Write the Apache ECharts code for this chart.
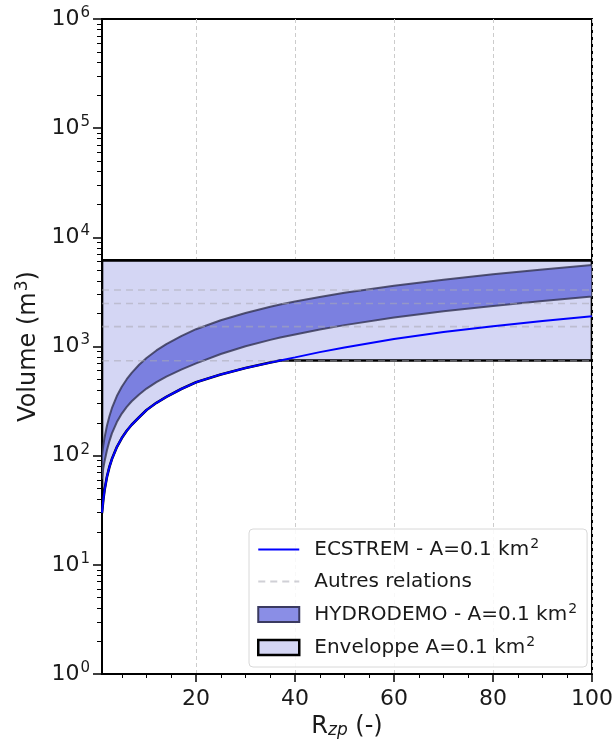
<!DOCTYPE html>
<html>
<head>
<meta charset="utf-8">
<script src="https://cdn.jsdelivr.net/npm/echarts@6/dist/echarts.min.js"></script>
<style>
  html, body { margin: 0; padding: 0; background: #fff; }
  #main { width: 613px; height: 740px; }
</style>
</head>
<body>
<div id="main"></div>
<script>
    // valeurs
    var rzp       = [1,   1.25, 1.5, 2,   2.5, 3,   4,   5,   6,   7,   8.5, 10,  12,  14,   17,   20,   25,   30,   35,   37,   40,   45,   50,   60,   70,   80,   90,   100];
    var ecstrem   = [30,  39,   48,  64,  79,  93,  120, 145, 169, 192, 225, 262, 305, 345,  408,  470,  555,  635,  712,  745,  795,  888,  980,  1170, 1355, 1535, 1715, 1890];
    var hydroLow  = [62,  76,   88,  112, 136, 160, 203, 243, 280, 315, 364, 412, 472, 530,  613,  700,  854,  1005, 1150, 1207, 1290, 1430, 1570, 1840, 2100, 2350, 2610, 2870];
    var hydroHigh = [100, 123,  145, 188, 230, 272, 352, 428, 502, 574, 680, 785, 920, 1052, 1245, 1440, 1740, 2030, 2310, 2420, 2580, 2840, 3100, 3600, 4090, 4580, 5080, 5580];
    var envelopeTop = 6150;
    var envelopeBottom = 745;
    var autresRelations = [3290, 2480, 1520, 740];

    var xTicks = [20, 40, 60, 80, 100];
    var xMinorTicks = [5, 10, 15, 25, 30, 35, 45, 50, 55, 65, 70, 75, 85, 90, 95];
    var yTicks = [1, 10, 100, 1000, 10000, 100000, 1000000];
    var yMinorTicks = [];
    for (var d = 0; d < yTicks.length - 1; d++) {
        for (var k = 2; k <= 9; k++) yMinorTicks.push(k * yTicks[d]);
    }

    var FONT = 'DejaVu Sans';
    var TXT = '#1a1a1a';
    var nameEc = 'ECSTREM - A=0.1 km²';
    var nameAutres = 'Autres relations';
    var nameHydro = 'HYDRODEMO - A=0.1 km²';
    var nameEnv = 'Enveloppe A=0.1 km²';

    var envLow = ecstrem.map(function (v) { return Math.min(v, envelopeBottom); });
    var envHigh = rzp.map(function () { return envelopeTop; });

    function bandSeries(name, lo, hi, fill, stroke, lw, z) {
        return {
            type: 'custom',
            name: name,
            z: z,
            clip: true,
            itemStyle: { color: fill, borderColor: stroke, borderWidth: lw },
            data: rzp.map(function (x, i) { return [x, lo[i], hi[i]]; }),
            encode: { x: 0, y: [1, 2] },
            renderItem: function (params, api) {
                if (params.dataIndex !== 0) return null;
                var pts = [];
                for (var i = 0; i < rzp.length; i++) pts.push(api.coord([rzp[i], hi[i]]));
                for (var j = rzp.length - 1; j >= 0; j--) pts.push(api.coord([rzp[j], lo[j]]));
                return {
                    type: 'polygon',
                    shape: { points: pts },
                    style: { fill: fill, stroke: stroke, lineWidth: lw, lineJoin: 'round' }
                };
            }
        };
    }

    var series = [
        bandSeries(nameEnv, envLow, envHigh, '#d4d6f4', '#000000', 2.6, 1),
        bandSeries(nameHydro, hydroLow, hydroHigh, '#7b80e0', 'rgba(50,50,80,0.8)', 2, 2)
    ];
    autresRelations.forEach(function (v) {
        series.push({
            type: 'line',
            name: nameAutres,
            z: 3,
            symbol: 'none',
            silent: true,
            lineStyle: { color: 'rgba(170,170,180,0.55)', width: 1.6, type: [7, 5] },
            itemStyle: { color: 'rgba(170,170,180,0.55)' },
            data: [[1, v], [100, v]]
        });
    });
    series.push({
        type: 'line',
        name: nameEc,
        z: 4,
        symbol: 'none',
        lineStyle: { color: '#0000ff', width: 2 },
        itemStyle: { color: '#0000ff' },
        data: rzp.map(function (x, i) { return [x, ecstrem[i]]; })
    });

    var supStyle = { fontFamily: FONT, fontSize: 14, color: TXT, padding: [0, 0, 11, 1] };
    var hideSymbol = { color: 'transparent', borderColor: 'transparent', borderWidth: 0 };

    var chart = echarts.init(document.getElementById('main'));
    chart.setOption({
        animation: false,
        textStyle: { fontFamily: FONT },
        grid: {
            left: 102, right: 21, top: 19, bottom: 66,
            outerBoundsMode: 'none',
            show: true, borderColor: '#000', borderWidth: 2, backgroundColor: 'transparent'
        },
        legend: {
            orient: 'vertical',
            left: 249, top: 529,
            backgroundColor: 'rgba(255,255,255,0.85)',
            borderColor: '#d8d8d8', borderWidth: 1, borderRadius: 4,
            padding: [8, 10, 8, 8],
            itemWidth: 41, itemHeight: 15, itemGap: 9,
            formatter: function (name) {
                return name.replace('²', '{sup|2}');
            },
            textStyle: {
                fontFamily: FONT, fontSize: 20, color: TXT, padding: [0, 0, 0, 10], lineHeight: 23,
                rich: { sup: supStyle }
            },
            data: [
                { name: nameEc, itemStyle: hideSymbol },
                { name: nameAutres, itemStyle: hideSymbol },
                { name: nameHydro, icon: 'rect', itemStyle: { color: '#8a8ee6', borderColor: '#3a3a60', borderWidth: 2 } },
                { name: nameEnv, icon: 'rect', itemStyle: { color: '#d4d6f4', borderColor: '#000', borderWidth: 2.5 } }
            ]
        },
        xAxis: [{
            type: 'value',
            min: 1, max: 100,
            name: 'R{sub|zp} (-)',
            nameLocation: 'middle',
            nameGap: 37,
            nameTextStyle: {
                fontFamily: FONT, fontSize: 24, color: TXT,
                rich: { sub: { fontFamily: FONT, fontSize: 17, fontStyle: 'italic', color: TXT, padding: [8, 0, 0, 0] } }
            },
            axisLine: { show: true, lineStyle: { color: '#000', width: 2 } },
            axisTick: { show: true, length: 8, lineStyle: { color: '#000', width: 1.5 }, customValues: xTicks },
            axisLabel: { customValues: xTicks, margin: 14, fontFamily: FONT, fontSize: 22, color: TXT },
            splitLine: { show: true, lineStyle: { color: '#cccccc', width: 1, type: [4, 3] } }
        }, {
            type: 'value',
            min: 1, max: 100,
            position: 'bottom',
            axisLine: { show: false },
            axisTick: { show: true, length: 4, lineStyle: { color: '#000', width: 1 }, customValues: xMinorTicks },
            axisLabel: { show: false },
            splitLine: { show: false }
        }],
        yAxis: [{
            type: 'log',
            logBase: 10,
            min: 1, max: 1000000,
            name: 'Volume (m{sup|3})',
            nameLocation: 'middle',
            nameGap: 58,
            nameTextStyle: {
                fontFamily: FONT, fontSize: 24, color: TXT,
                rich: { sup: { fontFamily: FONT, fontSize: 17, color: TXT, padding: [0, 0, 12, 1] } }
            },
            axisLine: { show: true, lineStyle: { color: '#000', width: 2 } },
            axisTick: { show: true, length: 9, lineStyle: { color: '#000', width: 1.5 }, customValues: yTicks },
            axisLabel: {
                customValues: yTicks,
                margin: 12,
                formatter: function (v) {
                    return '{b|10}{s|' + Math.round(Math.log10(v)) + '}';
                },
                rich: {
                    b: { fontFamily: FONT, fontSize: 22, color: TXT },
                    s: { fontFamily: FONT, fontSize: 15, color: TXT, padding: [0, 0, 12, 1] }
                }
            },
            splitLine: { show: false }
        }, {
            type: 'log',
            logBase: 10,
            min: 1, max: 1000000,
            position: 'left',
            axisLine: { show: false },
            axisTick: { show: true, length: 5, lineStyle: { color: '#000', width: 1 }, customValues: yMinorTicks },
            axisLabel: { show: false },
            splitLine: { show: false }
        }],
        series: series
    });
</script>
</body>
</html>
